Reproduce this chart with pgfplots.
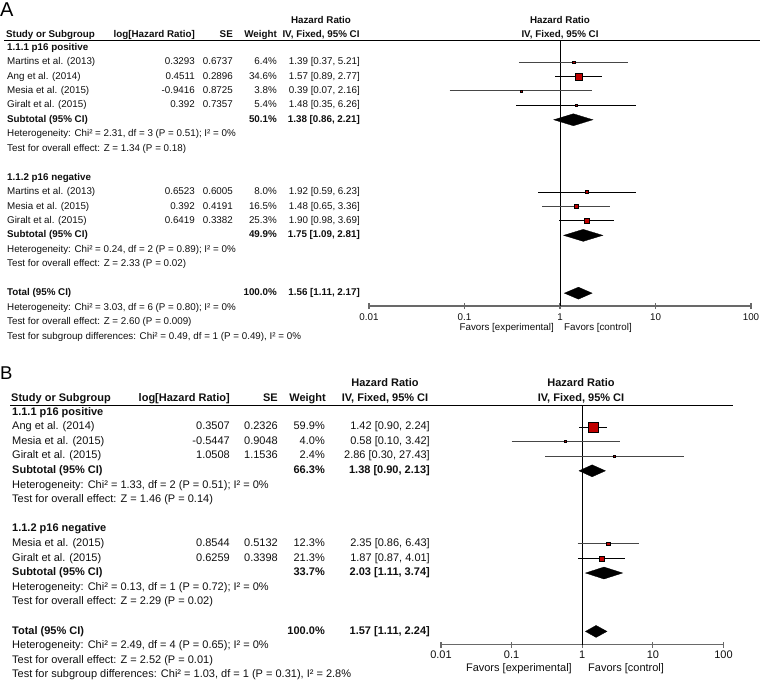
\documentclass[border=0pt]{standalone}
\usepackage{fontspec}
\setmainfont{Liberation Sans}
\usepackage{pgfplots}
\pgfplotsset{compat=1.18}
\definecolor{hrred}{RGB}{192,0,0}
\definecolor{txt}{RGB}{15,15,15}
\definecolor{axgray}{RGB}{105,105,105}
\definecolor{cigray}{RGB}{70,70,70}
\newcommand\fa{\fontsize{9.8}{11}\selectfont}
\newcommand\fb{\fontsize{11}{12}\selectfont}
\newcommand\RA[1]{47.5+14.45*#1}
\newcommand\RB[1]{412.4+14.6*#1}
\begin{document}
\begin{tikzpicture}[x=1pt,y=-1pt,
  LA/.style={anchor=mid west,inner sep=0pt,font=\fa,text=txt},
  RR/.style={anchor=mid east,inner sep=0pt,font=\fa,text=txt},
  CA/.style={anchor=mid,inner sep=0pt,font=\fa,text=txt},
  LB/.style={anchor=mid west,inner sep=0pt,font=\fb,text=txt},
  RB/.style={anchor=mid east,inner sep=0pt,font=\fb,text=txt},
  CB/.style={anchor=mid,inner sep=0pt,font=\fb,text=txt}]
\useasboundingbox (0,0) rectangle (760,681);

% ================= PANEL A =================
\node[anchor=west,inner sep=0pt,font=\fontsize{20}{20}\selectfont] at (0,10) {A};
\node[CA,font=\fa\bfseries] at (321,21) {Hazard Ratio};
\node[LA,font=\fa\bfseries] at (6,35) {Study or Subgroup};
\node[RR,font=\fa\bfseries] at (195,35) {log[Hazard Ratio]};
\node[RR,font=\fa\bfseries] at (233,35) {SE};
\node[RR,font=\fa\bfseries] at (277,35) {Weight};
\node[CA,font=\fa\bfseries] at (321,35) {IV, Fixed, 95\% CI};
\node[CA,font=\fa\bfseries] at (560,21) {Hazard Ratio};
\node[CA,font=\fa\bfseries] at (560,35) {IV, Fixed, 95\% CI};
\draw[line width=0.9pt] (4,40)--(760,40);

\node[LA,font=\fa\bfseries] at (7,{\RA{0}}) {1.1.1 p16 positive};
\node[LA] at (7,{\RA{1}}) {Martins et al. (2013)};
\node[RR] at (195,{\RA{1}}) {0.3293};
\node[RR] at (233,{\RA{1}}) {0.6737};
\node[RR] at (277,{\RA{1}}) {6.4\%};
\node[RR] at (360,{\RA{1}}) {1.39 [0.37, 5.21]};
\node[LA] at (7,{\RA{2}}) {Ang et al. (2014)};
\node[RR] at (195,{\RA{2}}) {0.4511};
\node[RR] at (233,{\RA{2}}) {0.2896};
\node[RR] at (277,{\RA{2}}) {34.6\%};
\node[RR] at (360,{\RA{2}}) {1.57 [0.89, 2.77]};
\node[LA] at (7,{\RA{3}}) {Mesia et al. (2015)};
\node[RR] at (195,{\RA{3}}) {-0.9416};
\node[RR] at (233,{\RA{3}}) {0.8725};
\node[RR] at (277,{\RA{3}}) {3.8\%};
\node[RR] at (360,{\RA{3}}) {0.39 [0.07, 2.16]};
\node[LA] at (7,{\RA{4}}) {Giralt et al. (2015)};
\node[RR] at (195,{\RA{4}}) {0.392};
\node[RR] at (233,{\RA{4}}) {0.7357};
\node[RR] at (277,{\RA{4}}) {5.4\%};
\node[RR] at (360,{\RA{4}}) {1.48 [0.35, 6.26]};
\node[LA,font=\fa\bfseries] at (7,{\RA{5}}) {Subtotal (95\% CI)};
\node[RR,font=\fa\bfseries] at (277,{\RA{5}}) {50.1\%};
\node[RR,font=\fa\bfseries] at (360,{\RA{5}}) {1.38 [0.86, 2.21]};
\node[LA] at (7,{\RA{6}}) {Heterogeneity: Chi² = 2.31, df = 3 (P = 0.51); I² = 0\%};
\node[LA] at (7,{\RA{7}}) {Test for overall effect: Z = 1.34 (P = 0.18)};

\node[LA,font=\fa\bfseries] at (7,{\RA{9}}) {1.1.2 p16 negative};
\node[LA] at (7,{\RA{10}}) {Martins et al. (2013)};
\node[RR] at (195,{\RA{10}}) {0.6523};
\node[RR] at (233,{\RA{10}}) {0.6005};
\node[RR] at (277,{\RA{10}}) {8.0\%};
\node[RR] at (360,{\RA{10}}) {1.92 [0.59, 6.23]};
\node[LA] at (7,{\RA{11}}) {Mesia et al. (2015)};
\node[RR] at (195,{\RA{11}}) {0.392};
\node[RR] at (233,{\RA{11}}) {0.4191};
\node[RR] at (277,{\RA{11}}) {16.5\%};
\node[RR] at (360,{\RA{11}}) {1.48 [0.65, 3.36]};
\node[LA] at (7,{\RA{12}}) {Giralt et al. (2015)};
\node[RR] at (195,{\RA{12}}) {0.6419};
\node[RR] at (233,{\RA{12}}) {0.3382};
\node[RR] at (277,{\RA{12}}) {25.3\%};
\node[RR] at (360,{\RA{12}}) {1.90 [0.98, 3.69]};
\node[LA,font=\fa\bfseries] at (7,{\RA{13}}) {Subtotal (95\% CI)};
\node[RR,font=\fa\bfseries] at (277,{\RA{13}}) {49.9\%};
\node[RR,font=\fa\bfseries] at (360,{\RA{13}}) {1.75 [1.09, 2.81]};
\node[LA] at (7,{\RA{14}}) {Heterogeneity: Chi² = 0.24, df = 2 (P = 0.89); I² = 0\%};
\node[LA] at (7,{\RA{15}}) {Test for overall effect: Z = 2.33 (P = 0.02)};

\node[LA,font=\fa\bfseries] at (7,{\RA{17}}) {Total (95\% CI)};
\node[RR,font=\fa\bfseries] at (277,{\RA{17}}) {100.0\%};
\node[RR,font=\fa\bfseries] at (360,{\RA{17}}) {1.56 [1.11, 2.17]};
\node[LA] at (7,{\RA{18}}) {Heterogeneity: Chi² = 3.03, df = 6 (P = 0.80); I² = 0\%};
\node[LA] at (7,{\RA{19}}) {Test for overall effect: Z = 2.60 (P = 0.009)};
\node[LA] at (7,{\RA{20}}) {Test for subgroup differences: Chi² = 0.49, df = 1 (P = 0.49), I² = 0\%};

\node[RR] at (554,328) {Favors [experimental]};
\node[LA] at (564,328) {Favors [control]};

\begin{axis}[at={(560pt,-173pt)},anchor=center,scale only axis,
  width=382pt,height=266pt,xmode=log,xmin=0.01,xmax=100,
  ymin=-17.889,ymax=0.519,axis y line=none,axis x line*=bottom,
  xtick={0.01,0.1,1,10,100},xticklabels={0.01,0.1,1,10,100},
  xminorticks=false,major tick length=6pt,tick align=center,
  x axis line style={axgray,line width=1.2pt},
  every tick/.style={axgray,line width=1.2pt},
  xticklabel style={font=\fa,text=txt,yshift=-1.5pt},
  clip=false]
\addplot[black,line width=0.9pt] coordinates {(1,-17.889) (1,0.519)};
% CIs
\addplot[cigray,line width=0.9pt] coordinates {(0.37,-1) (5.21,-1)};
\addplot[black,line width=0.9pt] coordinates {(0.89,-2) (2.77,-2)};
\addplot[cigray,line width=0.9pt] coordinates {(0.07,-3) (2.16,-3)};
\addplot[black,line width=0.9pt] coordinates {(0.35,-4) (6.26,-4)};
\addplot[black,line width=0.9pt] coordinates {(0.59,-10) (6.23,-10)};
\addplot[cigray,line width=0.9pt] coordinates {(0.65,-11) (3.36,-11)};
\addplot[black,line width=0.9pt] coordinates {(0.98,-12) (3.69,-12)};
% squares
\addplot[only marks,mark=square*,mark size=1.2pt,mark options={draw=none,fill=hrred}] coordinates {(1.39,-1)};
\addplot[only marks,mark=square*,mark size=3.5pt,mark options={draw=none,fill=hrred}] coordinates {(1.57,-2)};
\addplot[only marks,mark=square*,mark size=1.0pt,mark options={draw=none,fill=hrred}] coordinates {(0.39,-3)};
\addplot[only marks,mark=square*,mark size=1.1pt,mark options={draw=none,fill=hrred}] coordinates {(1.48,-4)};
\addplot[only marks,mark=square*,mark size=1.6pt,mark options={draw=none,fill=hrred}] coordinates {(1.92,-10)};
\addplot[only marks,mark=square*,mark size=2.0pt,mark options={draw=none,fill=hrred}] coordinates {(1.48,-11)};
\addplot[only marks,mark=square*,mark size=2.7pt,mark options={draw=none,fill=hrred}] coordinates {(1.90,-12)};
% diamonds
\addplot[fill=black,draw=black,line width=0.3pt] coordinates {(0.86,-5) (1.38,-4.585) (2.21,-5) (1.38,-5.415)} --cycle;
\addplot[fill=black,draw=black,line width=0.3pt] coordinates {(1.09,-13) (1.75,-12.585) (2.81,-13) (1.75,-13.415)} --cycle;
\addplot[fill=black,draw=black,line width=0.3pt] coordinates {(1.11,-17) (1.56,-16.585) (2.17,-17) (1.56,-17.415)} --cycle;
\end{axis}

% ================= PANEL B =================
\node[anchor=west,inner sep=0pt,font=\fontsize{18.5}{18.5}\selectfont] at (0,373.5) {B};
\node[CB,font=\fb\bfseries] at (385,384) {Hazard Ratio};
\node[LB,font=\fb\bfseries] at (11,399) {Study or Subgroup};
\node[RB,font=\fb\bfseries] at (230,399) {log[Hazard Ratio]};
\node[RB,font=\fb\bfseries] at (278,399) {SE};
\node[RB,font=\fb\bfseries] at (326,399) {Weight};
\node[CB,font=\fb\bfseries] at (385,399) {IV, Fixed, 95\% CI};
\node[CB,font=\fb\bfseries] at (581,384) {Hazard Ratio};
\node[CB,font=\fb\bfseries] at (581,399) {IV, Fixed, 95\% CI};
\draw[line width=0.9pt] (10,405)--(733,405);

\node[LB,font=\fb\bfseries] at (12,{\RB{0}}) {1.1.1 p16 positive};
\node[LB] at (12,{\RB{1}}) {Ang et al. (2014)};
\node[RB] at (230,{\RB{1}}) {0.3507};
\node[RB] at (278,{\RB{1}}) {0.2326};
\node[RB] at (325,{\RB{1}}) {59.9\%};
\node[RB] at (430,{\RB{1}}) {1.42 [0.90, 2.24]};
\node[LB] at (12,{\RB{2}}) {Mesia et al. (2015)};
\node[RB] at (230,{\RB{2}}) {-0.5447};
\node[RB] at (278,{\RB{2}}) {0.9048};
\node[RB] at (325,{\RB{2}}) {4.0\%};
\node[RB] at (430,{\RB{2}}) {0.58 [0.10, 3.42]};
\node[LB] at (12,{\RB{3}}) {Giralt et al. (2015)};
\node[RB] at (230,{\RB{3}}) {1.0508};
\node[RB] at (278,{\RB{3}}) {1.1536};
\node[RB] at (325,{\RB{3}}) {2.4\%};
\node[RB] at (430,{\RB{3}}) {2.86 [0.30, 27.43]};
\node[LB,font=\fb\bfseries] at (12,{\RB{4}}) {Subtotal (95\% CI)};
\node[RB,font=\fb\bfseries] at (325,{\RB{4}}) {66.3\%};
\node[RB,font=\fb\bfseries] at (430,{\RB{4}}) {1.38 [0.90, 2.13]};
\node[LB] at (12,{\RB{5}}) {Heterogeneity: Chi² = 1.33, df = 2 (P = 0.51); I² = 0\%};
\node[LB] at (12,{\RB{6}}) {Test for overall effect: Z = 1.46 (P = 0.14)};

\node[LB,font=\fb\bfseries] at (12,{\RB{8}}) {1.1.2 p16 negative};
\node[LB] at (12,{\RB{9}}) {Mesia et al. (2015)};
\node[RB] at (230,{\RB{9}}) {0.8544};
\node[RB] at (278,{\RB{9}}) {0.5132};
\node[RB] at (325,{\RB{9}}) {12.3\%};
\node[RB] at (430,{\RB{9}}) {2.35 [0.86, 6.43]};
\node[LB] at (12,{\RB{10}}) {Giralt et al. (2015)};
\node[RB] at (230,{\RB{10}}) {0.6259};
\node[RB] at (278,{\RB{10}}) {0.3398};
\node[RB] at (325,{\RB{10}}) {21.3\%};
\node[RB] at (430,{\RB{10}}) {1.87 [0.87, 4.01]};
\node[LB,font=\fb\bfseries] at (12,{\RB{11}}) {Subtotal (95\% CI)};
\node[RB,font=\fb\bfseries] at (325,{\RB{11}}) {33.7\%};
\node[RB,font=\fb\bfseries] at (430,{\RB{11}}) {2.03 [1.11, 3.74]};
\node[LB] at (12,{\RB{12}}) {Heterogeneity: Chi² = 0.13, df = 1 (P = 0.72); I² = 0\%};
\node[LB] at (12,{\RB{13}}) {Test for overall effect: Z = 2.29 (P = 0.02)};

\node[LB,font=\fb\bfseries] at (12,{\RB{15}}) {Total (95\% CI)};
\node[RB,font=\fb\bfseries] at (325,{\RB{15}}) {100.0\%};
\node[RB,font=\fb\bfseries] at (430,{\RB{15}}) {1.57 [1.11, 2.24]};
\node[LB] at (12,{\RB{16}}) {Heterogeneity: Chi² = 2.49, df = 4 (P = 0.65); I² = 0\%};
\node[LB] at (12,{\RB{17}}) {Test for overall effect: Z = 2.52 (P = 0.01)};
\node[LB] at (12,{\RB{18}}) {Test for subgroup differences: Chi² = 1.03, df = 1 (P = 0.31), I² = 2.8\%};

\node[RB] at (572,669) {Favors [experimental]};
\node[LB] at (588,669) {Favors [control]};

\begin{axis}[at={(582.25pt,-524.75pt)},anchor=center,scale only axis,
  width=282.5pt,height=239.5pt,xmode=log,xmin=0.01,xmax=100,
  ymin=-15.897,ymax=0.507,axis y line=none,axis x line*=bottom,
  xtick={0.01,0.1,1,10,100},xticklabels={0.01,0.1,1,10,100},
  xminorticks=false,major tick length=6pt,tick align=center,
  x axis line style={axgray,line width=1.2pt},
  every tick/.style={axgray,line width=1.2pt},
  xticklabel style={font=\fb,text=txt,yshift=0pt},
  clip=false]
\addplot[black,line width=0.9pt] coordinates {(1,-15.897) (1,0.507)};
% CIs
\addplot[black,line width=0.9pt] coordinates {(0.90,-1) (2.24,-1)};
\addplot[cigray,line width=0.9pt] coordinates {(0.10,-2) (3.42,-2)};
\addplot[cigray,line width=0.9pt] coordinates {(0.30,-3) (27.43,-3)};
\addplot[cigray,line width=0.9pt] coordinates {(0.86,-9) (6.43,-9)};
\addplot[black,line width=0.9pt] coordinates {(0.87,-10) (4.01,-10)};
% squares
\addplot[only marks,mark=square*,mark size=5.3pt,mark options={draw=none,fill=hrred}] coordinates {(1.42,-1)};
\addplot[only marks,mark=square*,mark size=1.0pt,mark options={draw=none,fill=hrred}] coordinates {(0.58,-2)};
\addplot[only marks,mark=square*,mark size=0.8pt,mark options={draw=none,fill=hrred}] coordinates {(2.86,-3)};
\addplot[only marks,mark=square*,mark size=1.8pt,mark options={draw=none,fill=hrred}] coordinates {(2.35,-9)};
\addplot[only marks,mark=square*,mark size=2.5pt,mark options={draw=none,fill=hrred}] coordinates {(1.87,-10)};
% diamonds
\addplot[fill=black,draw=black,line width=0.3pt] coordinates {(0.90,-4) (1.38,-3.59) (2.13,-4) (1.38,-4.41)} --cycle;
\addplot[fill=black,draw=black,line width=0.3pt] coordinates {(1.11,-11) (2.03,-10.59) (3.74,-11) (2.03,-11.41)} --cycle;
\addplot[fill=black,draw=black,line width=0.3pt] coordinates {(1.11,-15) (1.57,-14.59) (2.24,-15) (1.57,-15.41)} --cycle;
\end{axis}
\end{tikzpicture}
\end{document}
